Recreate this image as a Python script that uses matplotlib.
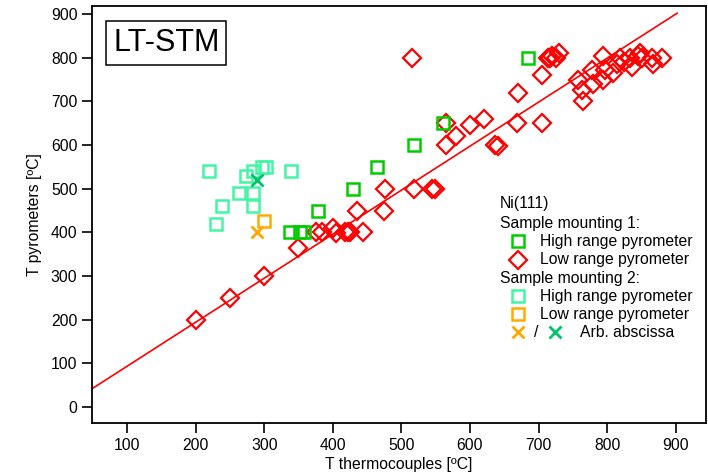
import matplotlib
matplotlib.use("Agg")
import matplotlib.pyplot as plt

plt.rcParams['font.family'] = ['Liberation Sans', 'DejaVu Sans']

# Sample mounting 1, low range pyrometer (red diamonds)
low1_x = [200, 250, 300, 350, 375, 385, 400, 405, 418, 422, 425, 435, 444, 475, 476,
          518, 545, 549, 515, 565, 565, 580, 600, 620, 637, 641, 668, 670, 705, 705,
          714, 717, 720, 725, 730, 757, 763, 765, 778, 780, 794, 797, 794, 808, 815,
          819, 825, 833, 836, 845, 851, 848, 865, 867, 880]
low1_y = [200, 250, 300, 365, 400, 400, 410, 398, 400, 400, 400, 450, 400, 450, 500,
          500, 500, 500, 800, 600, 650, 620, 645, 660, 600, 598, 650, 720, 650, 760,
          800, 800, 805, 800, 810, 750, 725, 700, 772, 740, 805, 772, 750, 765, 785,
          800, 790, 800, 778, 805, 800, 810, 800, 786, 800]
# Sample mounting 1, high range pyrometer (green squares)
high1_x = [338, 352, 358, 378, 430, 464, 518, 561, 685]
high1_y = [400, 400, 400, 450, 500, 550, 600, 650, 800]
# Sample mounting 2, high range pyrometer
high2_x = [220, 230, 238, 263, 273, 284, 284, 284, 297, 303, 339]
high2_y = [540, 420, 460, 490, 530, 540, 490, 460, 550, 550, 540]
# Sample mounting 2, low range pyrometer
low2_x = [300]
low2_y = [425]
# Arbitrary abscissa
arb_low_x, arb_low_y = [290], [400]
arb_high_x, arb_high_y = [290], [520]
# Fit line
fit_x = [50, 902]
fit_a, fit_b = -7.4, 1.008

c_red = '#FF0000'
c_green = '#00CC00'
c_sea = '#44F5A5'
c_orange = '#FFAA00'
c_dgreen = '#00C46A'

fig = plt.figure(figsize=(7.08, 4.75), dpi=100)
ax = fig.add_axes([0.130, 0.109, 0.867, 0.878])

ax.plot(fit_x, [fit_a + fit_b * x for x in fit_x], color=c_red, lw=1.2, zorder=1)
ax.plot(low1_x, low1_y, 'D', ms=9, mfc='none', mec=c_red, mew=1.6, ls='none', zorder=3)
ax.plot(high1_x, high1_y, 's', ms=8.2, mfc='none', mec=c_green, mew=1.8, ls='none', zorder=3)
ax.plot(high2_x, high2_y, 's', ms=8.2, mfc='none', mec=c_sea, mew=1.8, ls='none', zorder=3)
ax.plot(low2_x, low2_y, 's', ms=8.2, mfc='none', mec=c_orange, mew=1.8, ls='none', zorder=3)
ax.plot(arb_low_x, arb_low_y, 'x', ms=9, mec=c_orange, mew=2, ls='none', zorder=3)
ax.plot(arb_high_x, arb_high_y, 'x', ms=9, mec=c_dgreen, mew=2, ls='none', zorder=3)

ax.set_xlim(49, 944)
ax.set_ylim(-37, 918)
ax.set_xticks(range(100, 901, 100))
ax.set_yticks(range(0, 901, 100))
ax.tick_params(direction='out', length=7, width=1.2, labelsize=11.3, top=False, right=False)
for s in ax.spines.values():
    s.set_linewidth(1.3)
ax.set_xlabel('T thermocouples [ºC]', fontsize=11.3, labelpad=3)
ax.set_ylabel('T pyrometers [ºC]', fontsize=11.3, labelpad=6)

tr = ax.transAxes
def fx(px):
    return (px - 92) / (706 - 92)
def fy(py):
    return (423 - py) / (423 - 6)

# LT-STM label
ax.text(fx(113), fy(43), 'LT-STM', transform=tr, fontsize=22, ha='left', va='center',
        bbox=dict(boxstyle='square,pad=0.22', fc='white', ec='black', lw=1.1))

# Manual legend
fs = 11.3
ax.text(fx(500), fy(203), 'Ni(111)', transform=tr, fontsize=fs, va='center')
ax.text(fx(500), fy(223), 'Sample mounting 1:', transform=tr, fontsize=fs, va='center')
ax.plot([fx(518)], [fy(241)], 's', transform=tr, ms=8, mfc='none', mec=c_green, mew=1.8)
ax.text(fx(540), fy(241), 'High range pyrometer', transform=tr, fontsize=fs, va='center')
ax.plot([fx(518)], [fy(260)], 'D', transform=tr, ms=9, mfc='none', mec=c_red, mew=1.6)
ax.text(fx(540), fy(259), 'Low range pyrometer', transform=tr, fontsize=fs, va='center')
ax.text(fx(500), fy(278), 'Sample mounting 2:', transform=tr, fontsize=fs, va='center')
ax.plot([fx(518)], [fy(296)], 's', transform=tr, ms=8, mfc='none', mec=c_sea, mew=1.8)
ax.text(fx(540), fy(296), 'High range pyrometer', transform=tr, fontsize=fs, va='center')
ax.plot([fx(518)], [fy(314)], 's', transform=tr, ms=8, mfc='none', mec=c_orange, mew=1.8)
ax.text(fx(540), fy(314), 'Low range pyrometer', transform=tr, fontsize=fs, va='center')
ax.plot([fx(518)], [fy(332)], 'x', transform=tr, ms=8, mec=c_orange, mew=2)
ax.text(fx(536), fy(332), '/', transform=tr, fontsize=fs, va='center', ha='center')
ax.plot([fx(555)], [fy(332)], 'x', transform=tr, ms=8, mec=c_dgreen, mew=2)
ax.text(fx(580), fy(332), 'Arb. abscissa', transform=tr, fontsize=fs, va='center')

fig.savefig('out.png', dpi=100)
